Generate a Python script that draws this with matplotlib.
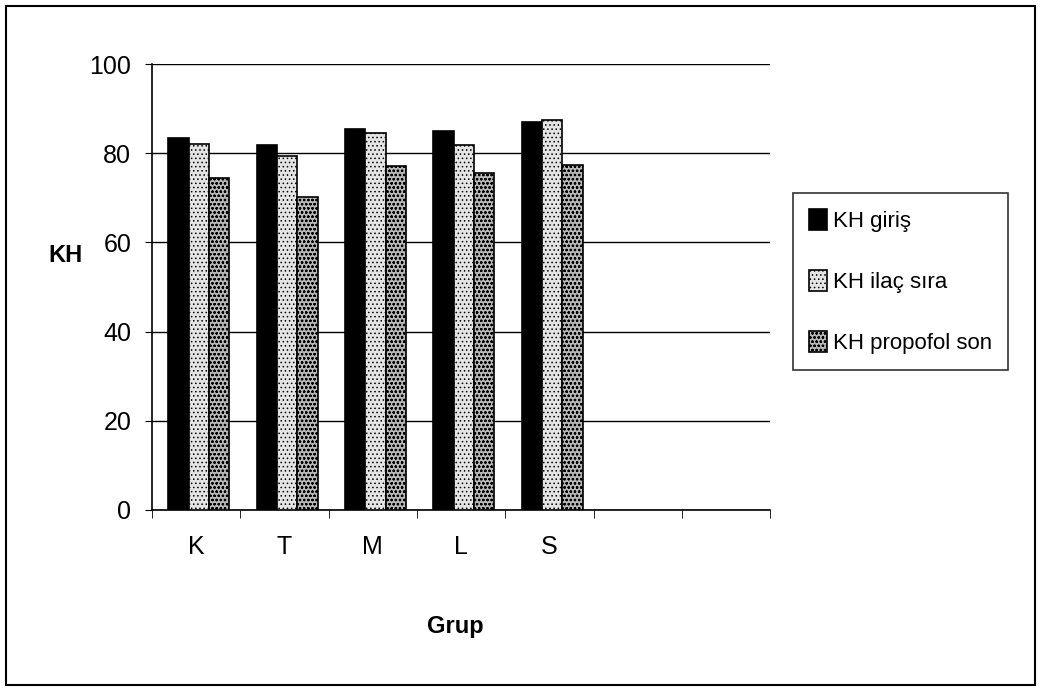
import matplotlib.pyplot as plt
import matplotlib.font_manager as fm
import numpy as np
from matplotlib.patches import Rectangle

groups = ["K", "T", "M", "L", "S", "", ""]
series_names = ["KH giriş", "KH ilaç sıra", "KH propofol son"]
kh_giris = [83.4, 81.8, 85.5, 84.9, 87.0]
kh_ilac = [82.2, 79.3, 84.6, 81.8, 87.4]
kh_propofol = [74.4, 70.2, 77.1, 75.6, 77.3]

names = {f.name for f in fm.fontManager.ttflist}
font = "Liberation Sans Narrow" if "Liberation Sans Narrow" in names else "Liberation Sans"
plt.rcParams['font.family'] = [font, 'DejaVu Sans']
plt.rcParams['hatch.color'] = '#777777'
plt.rcParams['hatch.linewidth'] = 0.6

fig = plt.figure(figsize=(10.41, 6.9), dpi=100)
fig.patches.append(Rectangle((0.006, 0.007), 0.988, 0.985, transform=fig.transFigure,
                             fill=False, edgecolor='black', linewidth=1.5))
ax = fig.add_axes([0.146, 0.261, 0.594, 0.646])

x = np.arange(len(kh_giris))
w = 0.23
styles = [dict(color='black', hatch=None),
          dict(color='#e4e4e4', hatch='....'),
          dict(color='#b8b8b8', hatch='oooo')]
for i, (vals, st) in enumerate(zip([kh_giris, kh_ilac, kh_propofol], styles)):
    ax.bar(x + (i - 1) * w + 0.03, vals, w, facecolor=st['color'], hatch=st['hatch'],
           edgecolor='black', linewidth=1.2, label=series_names[i], zorder=3)

ax.set_xlim(-0.5, len(groups) - 0.5)
ax.set_ylim(0, 100)
ax.set_yticks(range(0, 101, 20))
ax.yaxis.grid(True, color='black', linewidth=1)
ax.set_axisbelow(True)
ax.set_xticks(np.arange(len(groups)))
ax.set_xticklabels(groups, fontsize=18)
ax.set_xticks(np.arange(len(groups) + 1) - 0.5, minor=True)
ax.tick_params(axis='x', which='major', length=0, pad=18)
ax.tick_params(axis='x', which='minor', length=6, direction='out')
ax.tick_params(axis='y', labelsize=18, length=5, direction='out', pad=10)
for s in ['right', 'top']:
    ax.spines[s].set_visible(False)
ax.spines['left'].set_linewidth(1.2)
ax.spines['bottom'].set_linewidth(1.2)

ax.set_ylabel("KH", fontsize=17, fontweight='bold', rotation=0, va='center', ha='center')
ax.yaxis.set_label_coords(-0.14, 0.57)
ax.set_xlabel("Grup", fontsize=17, fontweight='bold')
ax.xaxis.set_label_coords(0.49, -0.235)

leg = fig.legend(loc='upper left', bbox_to_anchor=(0.762, 0.72), fontsize=16,
                 frameon=True, fancybox=False, edgecolor='black', handlelength=0.8,
                 handleheight=1.1, handletextpad=0.3, labelspacing=1.7, borderpad=0.7,
                 borderaxespad=0)
leg.get_frame().set_linewidth(1.2)

fig.savefig("out.png", dpi=100)
